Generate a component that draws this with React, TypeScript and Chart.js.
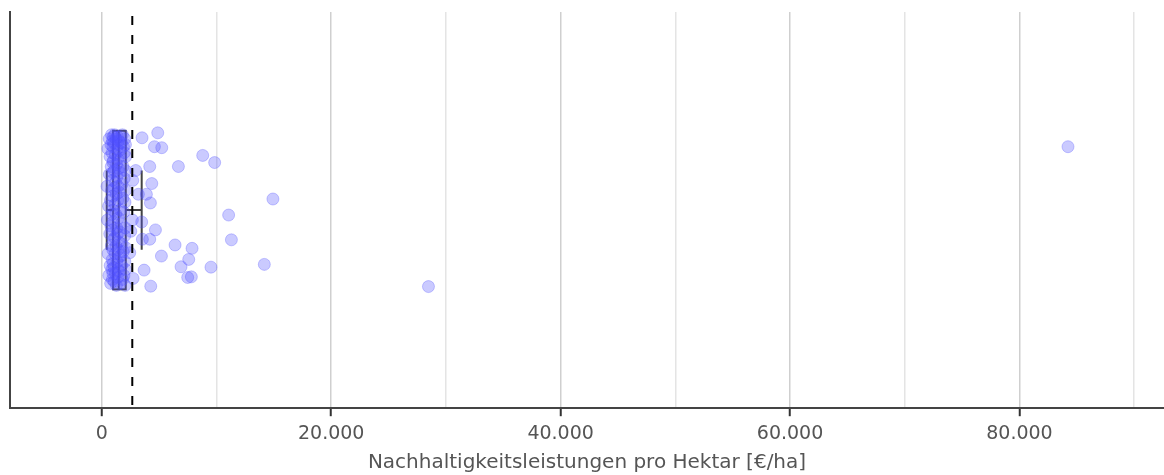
import React, { useEffect, useRef } from "react";
import { Chart, registerables } from "chart.js";

Chart.register(...registerables);

// Per-farm values (€/ha) and their vertical jitter inside the box band
const farmValues: number[] = [
  // far right values
  84230, 28480, 14920, 14170, 11060, 11300, 9840, 8800, 9520, 7870,
  7580, 6910, 6390, 7490, 7810, 6680, 4880, 5230, 4590, 3510,
  4180, 4360, 3190, 3890, 4240, 3480, 4680, 3540, 4180, 5200,
  3690, 4270, 2960, 2700, 2670, 2530, 2730, 2440,
  // dense group below the upper quartile
  455, 490, 530, 548, 595, 615, 648, 662, 695, 718,
  731, 757, 772, 795, 803, 826, 838, 851, 864, 873,
  886, 894, 905, 912, 925, 932, 941, 950, 956, 961,
  966, 970, 974, 977, 981, 983, 985,
  1002, 1014, 1033, 1046, 1062, 1085, 1093, 1115, 1122, 1146,
  1153, 1172, 1186, 1204, 1215, 1233, 1246, 1262, 1275, 1291,
  1303, 1316, 1334, 1341, 1356, 1372, 1384, 1393, 1404, 1413,
  1424, 1433, 1442, 1451, 1463, 1467, 1472, 1478,
  1494, 1512, 1535, 1553, 1574, 1596, 1613, 1634, 1652, 1676,
  1693, 1715, 1733, 1754, 1772, 1796, 1814, 1835, 1856, 1872,
  1893, 1914, 1935, 1952, 1974, 1992, 2003, 2012, 2024, 2033,
  2045, 2052, 2064, 2071, 2077, 2083, 2089,
];

const farmJitter: number[] = [
  0.32, -0.386, 0.056, -0.274, -0.025, -0.15, 0.24, 0.276, -0.288, -0.193,
  -0.249, -0.286, -0.176, -0.34, -0.337, 0.22, 0.39, 0.315, 0.32, 0.365,
  0.22, 0.134, 0.08, 0.08, 0.036, -0.06, -0.1, -0.147, -0.147, -0.232,
  -0.303, -0.384, 0.2, 0.15, -0.05, -0.107, -0.345, -0.215,
  0.12, -0.05, 0.31, -0.22, 0.02, -0.33, 0.36, 0.18, -0.12, 0.27,
  -0.28, 0.05, -0.37, 0.33, -0.08, 0.22, -0.18, 0.38, 0.1, -0.3,
  -0.02, 0.29, -0.25, 0.15, -0.35, 0.35, -0.1, 0.07, 0.24, -0.2,
  0.32, -0.32, 0.0, 0.19, -0.15, 0.37, -0.27,
  0.25, -0.06, 0.34, -0.29, 0.11, -0.36, 0.2, -0.14, 0.38, 0.03,
  -0.22, 0.28, -0.32, 0.14, -0.02, 0.36, -0.18, 0.08, -0.38, 0.23,
  -0.09, 0.31, -0.26, 0.17, -0.12, 0.37, -0.34, 0.05, 0.26, -0.2,
  0.12, -0.3, 0.33, -0.04, 0.21, -0.24, 0.35, -0.16,
  0.09, -0.31, 0.3, -0.11, 0.19, -0.37, 0.37, 0.0, -0.23, 0.26,
  -0.07, 0.34, -0.28, 0.13, -0.17, 0.38, -0.35, 0.06, 0.22, -0.21,
  0.32, -0.01, -0.33, 0.16, 0.29, -0.13, 0.36, -0.26, 0.04, -0.38,
  0.2, -0.09, 0.33, -0.3, 0.1, -0.19, 0.27,
];

// Box plot summary: lower whisker, Q1, median, Q3, upper whisker
const boxStats: number[] = [435, 985, 1480, 2090, 3480];
// Mean of all farms (dashed reference line)
const meanValue = 2660;

// X axis gridline positions and which of them carry a label
const gridValues: number[] = [0, 10000, 20000, 30000, 40000, 50000, 60000, 70000, 80000, 90000];
const labelledValues: number[] = [0, 20000, 40000, 60000, 80000];

const axisTitle = "Nachhaltigkeitsleistungen pro Hektar [€/ha]";
const FONT = "'DejaVu Sans', sans-serif";

const formatDe = (v: number) =>
  String(Math.round(v)).replace(/\B(?=(\d{3})+(?!\d))/g, ".");

const boxPlugin = {
  id: "boxPlot",
  beforeDatasetsDraw(chart: any) {
    const { ctx, scales } = chart;
    const x = scales.x;
    const y = scales.y;
    const [lo, q1, med, q3, hi] = boxStats.map((v) => x.getPixelForValue(v));
    const yc = y.getPixelForValue(0);
    const boxTop = y.getPixelForValue(0.4);
    const boxBot = y.getPixelForValue(-0.4);
    const capTop = y.getPixelForValue(0.2);
    const capBot = y.getPixelForValue(-0.2);
    ctx.save();
    ctx.strokeStyle = "#444444";
    ctx.lineWidth = 2;
    ctx.strokeRect(q1, boxTop, q3 - q1, boxBot - boxTop);
    ctx.beginPath();
    ctx.moveTo(med, boxTop);
    ctx.lineTo(med, boxBot);
    ctx.moveTo(lo, yc);
    ctx.lineTo(q1, yc);
    ctx.moveTo(q3, yc);
    ctx.lineTo(hi, yc);
    ctx.moveTo(lo, capTop);
    ctx.lineTo(lo, capBot);
    ctx.moveTo(hi, capTop);
    ctx.lineTo(hi, capBot);
    ctx.stroke();
    ctx.restore();
  },
  afterDatasetsDraw(chart: any) {
    const { ctx, scales, chartArea } = chart;
    const mx = scales.x.getPixelForValue(meanValue);
    ctx.save();
    ctx.strokeStyle = "#000000";
    ctx.lineWidth = 2;
    ctx.setLineDash([9, 10]);
    ctx.beginPath();
    ctx.moveTo(mx, chartArea.top + 4);
    ctx.lineTo(mx, chartArea.bottom);
    ctx.stroke();
    ctx.restore();
  },
};

export default function App() {
  const canvasRef = useRef<HTMLCanvasElement | null>(null);

  useEffect(() => {
    if (!canvasRef.current) return;
    const points = farmValues.map((v, i) => ({ x: v, y: farmJitter[i] }));
    const chart = new Chart(canvasRef.current, {
      type: "scatter",
      data: {
        datasets: [
          {
            data: points,
            pointRadius: 6,
            pointHoverRadius: 6,
            backgroundColor: "rgba(80, 80, 255, 0.3)",
            borderColor: "rgba(80, 80, 255, 0.3)",
            borderWidth: 1,
          },
        ],
      },
      options: {
        animation: false,
        responsive: true,
        maintainAspectRatio: false,
        layout: { autoPadding: false, padding: { top: 4, left: 0, right: 0, bottom: 0 } },
        plugins: {
          legend: { display: false },
          tooltip: { enabled: false },
        },
        scales: {
          x: {
            type: "linear",
            min: -8000,
            max: 92600,
            afterBuildTicks: (scale: any) => {
              scale.ticks = gridValues.map((v) => ({ value: v }));
            },
            afterFit: (scale: any) => {
              scale.paddingLeft = 0;
              scale.paddingRight = 0;
            },
            ticks: {
              autoSkip: false,
              maxRotation: 0,
              padding: 6,
              color: "#555555",
              font: { family: FONT, size: 19 },
              callback: (v: any) =>
                labelledValues.includes(Number(v)) ? formatDe(Number(v)) : "",
            },
            grid: {
              lineWidth: 1.5,
              color: (c: any) =>
                labelledValues.includes(c.tick?.value) ? "#cfcfcf" : "#e4e4e4",
              tickColor: (c: any) =>
                labelledValues.includes(c.tick?.value) ? "#333333" : "rgba(0,0,0,0)",
              tickLength: 8,
              tickWidth: 2,
            },
            border: { display: true, color: "#444444", width: 2 },
            title: {
              display: true,
              text: axisTitle,
              color: "#555555",
              font: { family: FONT, size: 20 },
              padding: { top: 0, bottom: 0 },
            },
          },
          y: {
            type: "linear",
            min: -1,
            max: 1,
            afterFit: (scale: any) => {
              scale.width = 2;
            },
            ticks: { display: false },
            grid: { display: true, drawTicks: false, color: "rgba(0,0,0,0)" },
            border: { display: true, color: "#444444", width: 2 },
          },
        },
      },
      plugins: [boxPlugin],
    });
    return () => chart.destroy();
  }, []);

  return (
    <div style={{ position: "fixed", left: 8, top: 8, width: 1156, height: 467 }}>
      <canvas ref={canvasRef} />
    </div>
  );
}
